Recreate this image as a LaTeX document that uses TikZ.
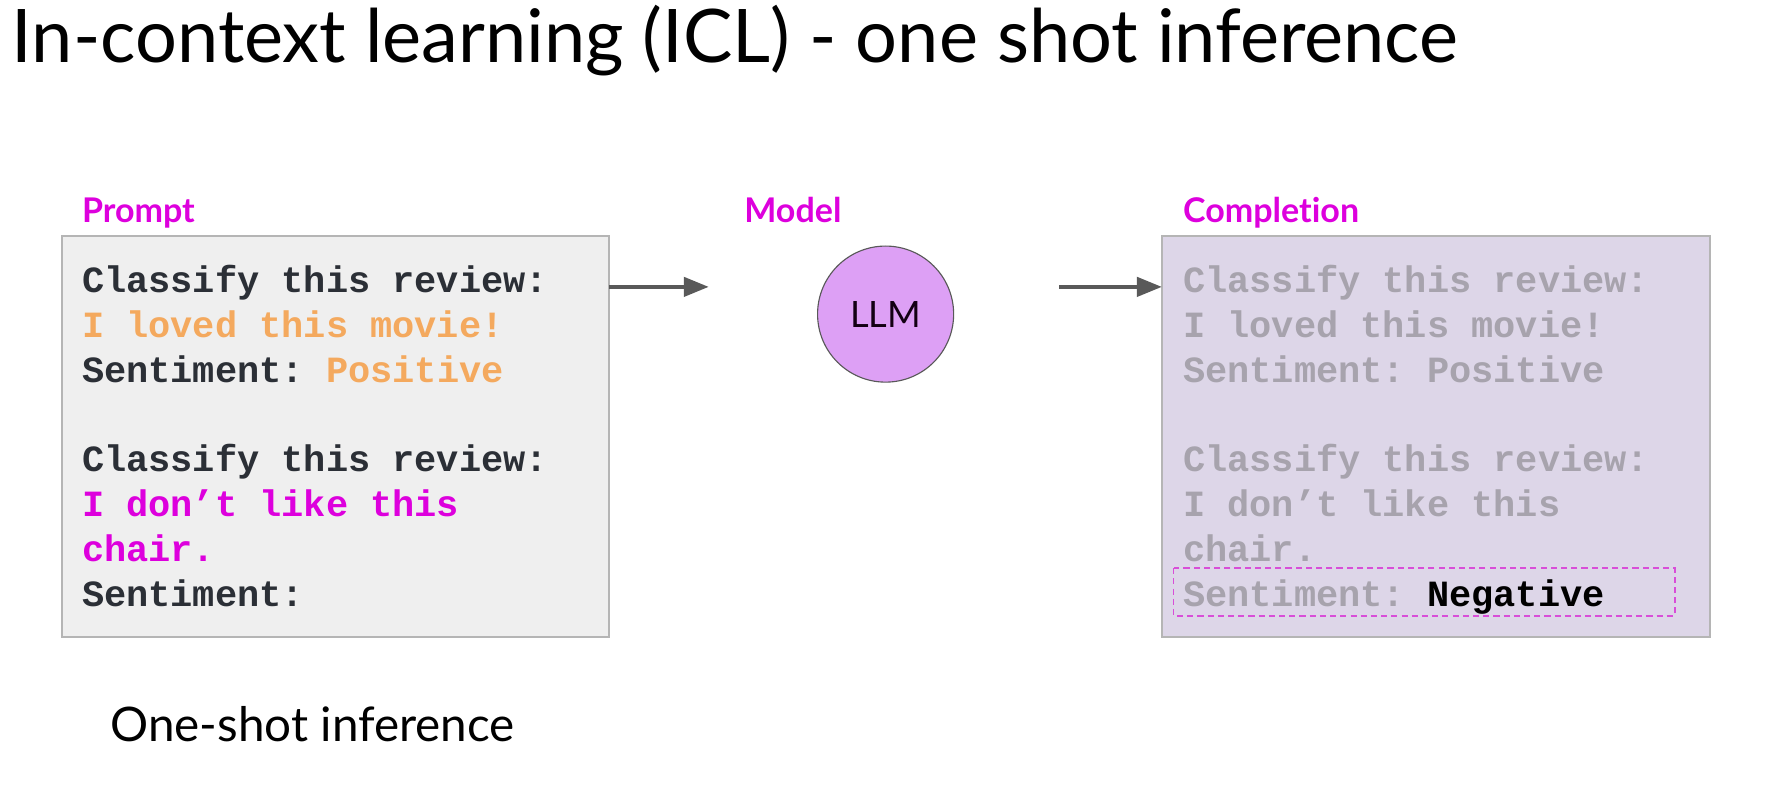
\documentclass[tikz,border=0pt]{standalone}
\usepackage{fontspec}
\setmainfont{Lato}[Ligatures=NoCommon]
\newfontfamily\codefont{Liberation Mono}
\usetikzlibrary{arrows.meta}
\frenchspacing
\definecolor{mag}{HTML}{DD00DD}
\definecolor{magdash}{HTML}{D84ED8}
\definecolor{orangetxt}{HTML}{F4A95E}
\definecolor{darktxt}{HTML}{2B2F36}
\definecolor{greytxt}{HTML}{A7A3AD}
\definecolor{promptfill}{HTML}{EFEFEF}
\definecolor{complfill}{HTML}{DDD6E8}
\definecolor{boxborder}{HTML}{B5B5B5}
\definecolor{arrowcol}{HTML}{595959}
\definecolor{llmfill}{HTML}{DDA0F5}
\tikzset{
  label/.style={anchor=base west, inner sep=0pt, text=mag, font=\fontsize{15}{18}\selectfont\bfseries},
  panel/.style={draw=boxborder, line width=0.8pt, inner sep=0pt},
  code/.style={anchor=base west, inner sep=0pt, font=\fontsize{16.3}{20}\selectfont\codefont\bfseries},
  flow/.style={draw=arrowcol, line width=1.6pt, -{Triangle[length=11pt,width=8.5pt]}},
}
\begin{document}
\begin{tikzpicture}[x=0.5pt,y=-0.5pt]
\useasboundingbox (0,0) rectangle (1568,696);
% title
\node[anchor=base west, inner sep=0pt, font=\fontsize{32.6}{38}\selectfont] (title) at (10,55) {In-context learning (ICL) - one shot inference};
% labels
\node[label] (lprompt) at (72,196) {Prompt};
\node[label] (lmodel) at (656,196) {Model};
\node[label] (lcompl) at (1043,196) {Completion};
% panels
\path[panel, fill=promptfill] (55,208) rectangle (537,562);
\node[inner sep=0pt, minimum width=482*0.5pt, minimum height=354*0.5pt] (prompt) at (296,385) {};
\path[panel, fill=complfill] (1025,208) rectangle (1508,562);
\node[inner sep=0pt, minimum width=483*0.5pt, minimum height=354*0.5pt] (compl) at (1266.5,385) {};
% prompt text
\node[code, text=darktxt] (p1) at (72,258) {Classify this review:};
\node[code, text=orangetxt] (p2) at (72,297.5) {I loved this movie!};
\node[code, text=darktxt] (p3) at (72,337) {Sentiment: \textcolor{orangetxt}{Positive}};
\node[code, text=darktxt] (p5) at (72,416) {Classify this review:};
\node[code, text=mag] (p6) at (72,455.5) {I don’t like this};
\node[code, text=mag] (p7) at (72,495) {chair.};
\node[code, text=darktxt] (p8) at (72,534.5) {Sentiment:};
% completion text
\node[code, text=greytxt] (c1) at (1043,258) {Classify this review:};
\node[code, text=greytxt] (c2) at (1043,297.5) {I loved this movie!};
\node[code, text=greytxt] (c3) at (1043,337) {Sentiment: Positive};
\node[code, text=greytxt] (c5) at (1043,416) {Classify this review:};
\node[code, text=greytxt] (c6) at (1043,455.5) {I don’t like this};
\node[code, text=greytxt] (c7) at (1043,495) {chair.};
\node[code, text=greytxt] (c8) at (1043,534.5) {Sentiment: \textcolor{black}{Negative}};
\draw[magdash, line width=0.75pt, dash pattern=on 2.7pt off 1.8pt] (1035,501) rectangle (1477,543);
% model
\node[circle, draw=arrowcol, line width=0.5pt, fill=llmfill, minimum size=120*0.5pt, inner sep=0pt,
      font=\fontsize{16}{19}\selectfont, text=black!85!violet] (llm) at (781,277) {LLM};
% arrows
\coordinate (a1) at (625,253);
\coordinate (a2) at (934,253);
\draw[flow] (prompt.east |- a1) -- (a1);
\draw[flow] (a2) -- (a2 -| compl.west);
% bottom caption
\node[anchor=base west, inner sep=0pt, font=\fontsize{21}{25}\selectfont] (caption) at (97,654) {One-shot inference};
\end{tikzpicture}
\end{document}
